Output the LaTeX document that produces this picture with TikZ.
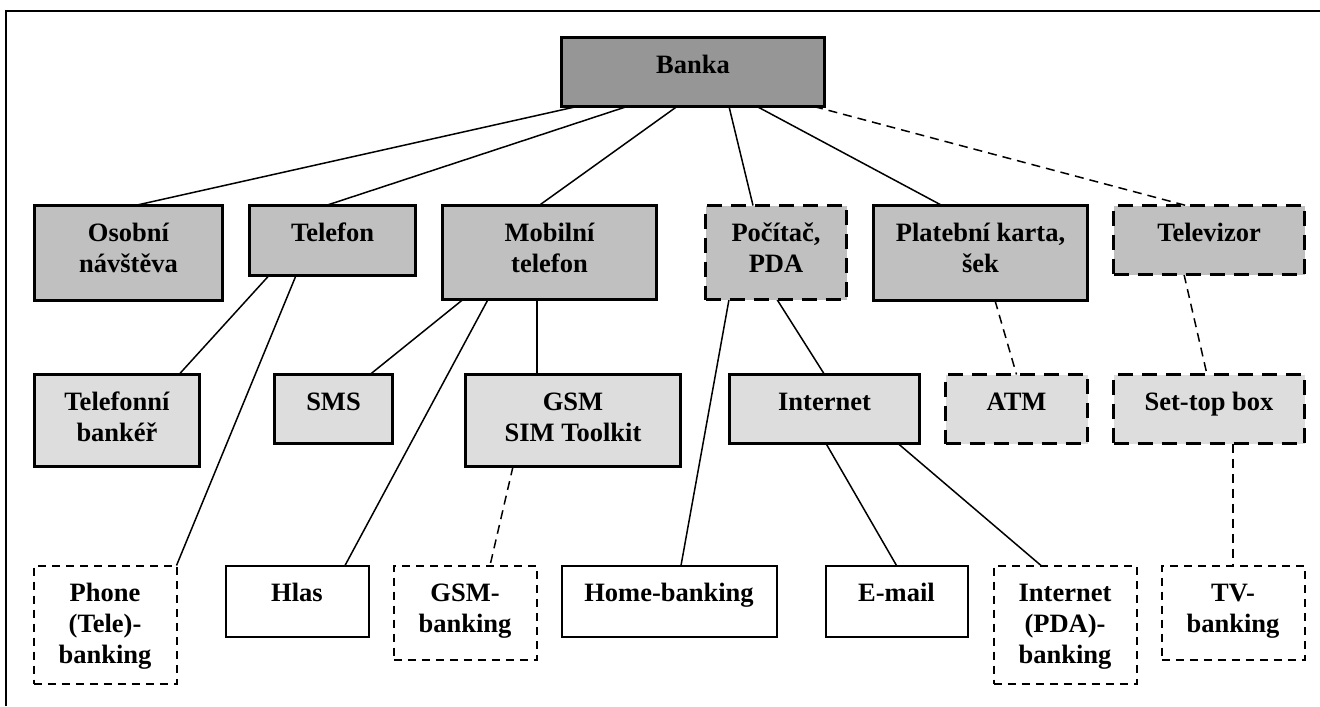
\documentclass[tikz,border=0pt]{standalone}
\usepackage{fontspec}
\setmainfont{Liberation Serif}
\usetikzlibrary{calc,backgrounds}

% box text: top-aligned, centred lines inside a box of fixed size
\newcommand\bxt[3]{\parbox[c][#2][t]{#1}{\centering\vspace*{7pt}\strut #3}}

\definecolor{fillA}{HTML}{969696}
\definecolor{fillB}{HTML}{C0C0C0}
\definecolor{fillC}{HTML}{DDDDDD}

\tikzset{
  every node/.style={inner sep=0pt, outer sep=0pt, font=\bfseries\fontsize{13.25}{15.5}\selectfont},
  heavy/.style={draw, line width=1.75pt, rectangle},
  heavydash/.style={heavy, dash pattern=on 7.5pt off 4.5pt},
  light/.style={draw, line width=1pt, rectangle, fill=white},
  lightdash/.style={light, dash pattern=on 4pt off 3pt},
  link/.style={line width=0.75pt},
  linkdash/.style={link, dash pattern=on 4.5pt off 3pt},
}

\begin{document}
\begin{tikzpicture}[x=0.5pt, y=-0.5pt]
\useasboundingbox (0,0) rectangle (1320,706);

% outer frame
\draw[line width=1.35pt] (6,706) -- (6,11) -- (1320,11);

% level 0
\node[heavy, fill=fillA] (banka) at (693,72) {\bxt{131.5pt}{34.5pt}{Banka}};

% level 1
\node[heavy, fill=fillB] (osobni) at (128.5,253) {\bxt{94pt}{47.5pt}{Osobní\\návštěva}};
\node[heavy, fill=fillB] (telefon) at (332.5,240.5) {\bxt{83pt}{35pt}{Telefon}};
\node[heavy, fill=fillB] (mobilni) at (549.5,252.5) {\bxt{107pt}{47pt}{Mobilní\\telefon}};
\node[heavydash, fill=fillB] (pocitac) at (776,252.5) {\bxt{70.5pt}{47pt}{Počítač,\\PDA}};
\node[heavy, fill=fillB] (platebni) at (980.5,253) {\bxt{107pt}{47.5pt}{Platební karta,\\šek}};
\node[heavydash, fill=fillB] (televizor) at (1209,240) {\bxt{95.5pt}{34.5pt}{Televizor}};

% level 2
\node[heavy, fill=fillC] (bankar) at (117,420.5) {\bxt{82.5pt}{46pt}{Telefonní\\bankéř}};
\node[heavy, fill=fillC] (sms) at (333.5,409) {\bxt{59pt}{34.5pt}{SMS}};
\node[heavy, fill=fillC] (gsm) at (573,420.5) {\bxt{107.5pt}{46pt}{GSM\\SIM Toolkit}};
\node[heavy, fill=fillC] (internet) at (824.5,409) {\bxt{95pt}{34.5pt}{Internet}};
\node[heavydash, fill=fillC] (atm) at (1016.5,409) {\bxt{71pt}{34.5pt}{ATM}};
\node[heavydash, fill=fillC] (settop) at (1209,409) {\bxt{95.5pt}{34.5pt}{Set-top box}};

% level 3
\node[lightdash] (phone) at (105,624.5) {\bxt{71.5pt}{59pt}{Phone\\(Tele)-\\banking}};
\node[light] (hlas) at (297,601) {\bxt{71.5pt}{35.5pt}{Hlas}};
\node[lightdash] (gsmbank) at (465,612.5) {\bxt{71.5pt}{47pt}{GSM-\\banking}};
\node[light] (home) at (669,601) {\bxt{107.5pt}{35.5pt}{Home-banking}};
\node[light] (email) at (896.5,601) {\bxt{71pt}{35.5pt}{E-mail}};
\node[lightdash] (ipda) at (1065,624.5) {\bxt{71.5pt}{59pt}{Internet\\(PDA)-\\banking}};
\node[lightdash] (tv) at (1233,612.5) {\bxt{71.5pt}{47pt}{TV-\\banking}};

\begin{scope}[on background layer]
% from the bank
\draw[link] ($(banka.south)+(-116,0)$) -- ($(osobni.north)+(6.5,0)$);
\draw[link] ($(banka.south)+(-66,0)$) -- ($(telefon.north)+(-6.5,0)$);
\draw[link] ($(banka.south)+(-16,0)$) -- ($(mobilni.north)+(-10.5,0)$);
\draw[link] ($(banka.south)+(36,0)$) -- ($(pocitac.north)+(-23,0)$);
\draw[link] ($(banka.south)+(64,0)$) -- ($(platebni.north)+(-38.5,0)$);
\draw[linkdash] ($(banka.south)+(121,0)$) -- ($(televizor.north)+(-23,0)$);
% telephone
\draw[link] ($(telefon.south)+(-63.5,0)$) -- ($(bankar.north)+(62,0)$);
\draw[link] ($(telefon.south)+(-36.5,0)$) -- (phone.north east);
% mobile phone
\draw[link] ($(mobilni.south)+(-86.5,0)$) -- ($(sms.north)+(36.5,0)$);
\draw[link] ($(mobilni.south)+(-61.5,0)$) -- ($(hlas.north)+(48,0)$);
\draw[link] ($(mobilni.south)+(-12.5,0)$) -- ($(gsm.north)+(-36,0)$);
\draw[linkdash] ($(gsm.south)+(-60,0)$) -- ($(gsmbank.north)+(25,0)$);
% computer
\draw[link] ($(pocitac.south)+(-47,0)$) -- ($(home.north)+(12,0)$);
\draw[link] ($(pocitac.south)+(1,0)$) -- (internet.north);
\draw[link] ($(internet.south)+(1.5,0)$) -- (email.north);
\draw[link] ($(internet.south)+(73.5,0)$) -- ($(ipda.north)+(-24,0)$);
% card and television
\draw[linkdash] ($(platebni.south)+(14.5,0)$) -- (atm.north);
\draw[linkdash] ($(televizor.south)+(-25,0)$) -- ($(settop.north)+(-2,0)$);
\draw[linkdash] ($(settop.south)+(24,0)$) -- (tv.north);
\end{scope}
\end{tikzpicture}
\end{document}
